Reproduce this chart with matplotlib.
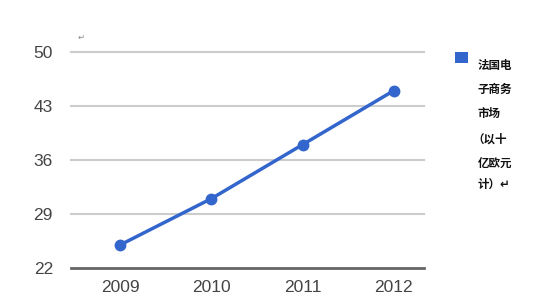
import matplotlib
matplotlib.use("Agg")
import matplotlib.pyplot as plt
from matplotlib.patches import Rectangle

years = ["2009", "2010", "2011", "2012"]
values = [25, 31, 38, 45]
yticks = [22, 29, 36, 43, 50]
legend_lines = ["法国电", "子商务", "市场", "（以十", "亿欧元", "计）↵"]

W, H = 543, 304
fig = plt.figure(figsize=(W / 100, H / 100), dpi=100)
fig.patch.set_facecolor("white")

ax = fig.add_axes([71 / W, 1 - 268 / H, (424 - 71) / W, (268 - 52) / H])
x = list(range(len(years)))
ax.plot(x, values, color="#3366cc", lw=2.5, marker="o", ms=7.5, zorder=3,
        solid_capstyle="round")
ax.set_xlim(-0.54, 3.33)
ax.set_ylim(22, 50)
ax.set_yticks(yticks)
ax.set_xticks(x)
ax.set_xticklabels(years)
for yv in yticks[1:]:
    ax.axhline(yv, color="#cccccc", lw=1.5, zorder=1, clip_on=False)
ax.axhline(yticks[0], color="#666666", lw=2, zorder=2, clip_on=False)
for s in ax.spines.values():
    s.set_visible(False)
ax.tick_params(length=0, labelsize=12.5, labelcolor="#444444")
ax.tick_params(axis="x", pad=9)
ax.tick_params(axis="y", pad=13)
for lab in ax.get_xticklabels() + ax.get_yticklabels():
    lab.set_family(["Liberation Sans", "DejaVu Sans"])

# legend
fig.patches.append(Rectangle((455 / W, 1 - 63 / H), 13 / W, 11 / H,
                             transform=fig.transFigure, facecolor="#3366cc",
                             edgecolor="none"))
ys = [65, 89, 114, 139, 164, 184]
xs = [478, 478, 478, 472, 478, 478]
for t, xx, yy in zip(legend_lines, xs, ys):
    fig.text(xx / W, 1 - yy / H, t, fontsize=8.3, color="#111111", va="center",
             ha="left", weight="bold", family=["Noto Sans CJK SC", "DejaVu Sans"])

fig.text(78 / W, 1 - 37 / H, "↵", fontsize=6, color="#888888", va="center",
         family=["DejaVu Sans"])

fig.savefig("out.png", dpi=100, facecolor="white")
